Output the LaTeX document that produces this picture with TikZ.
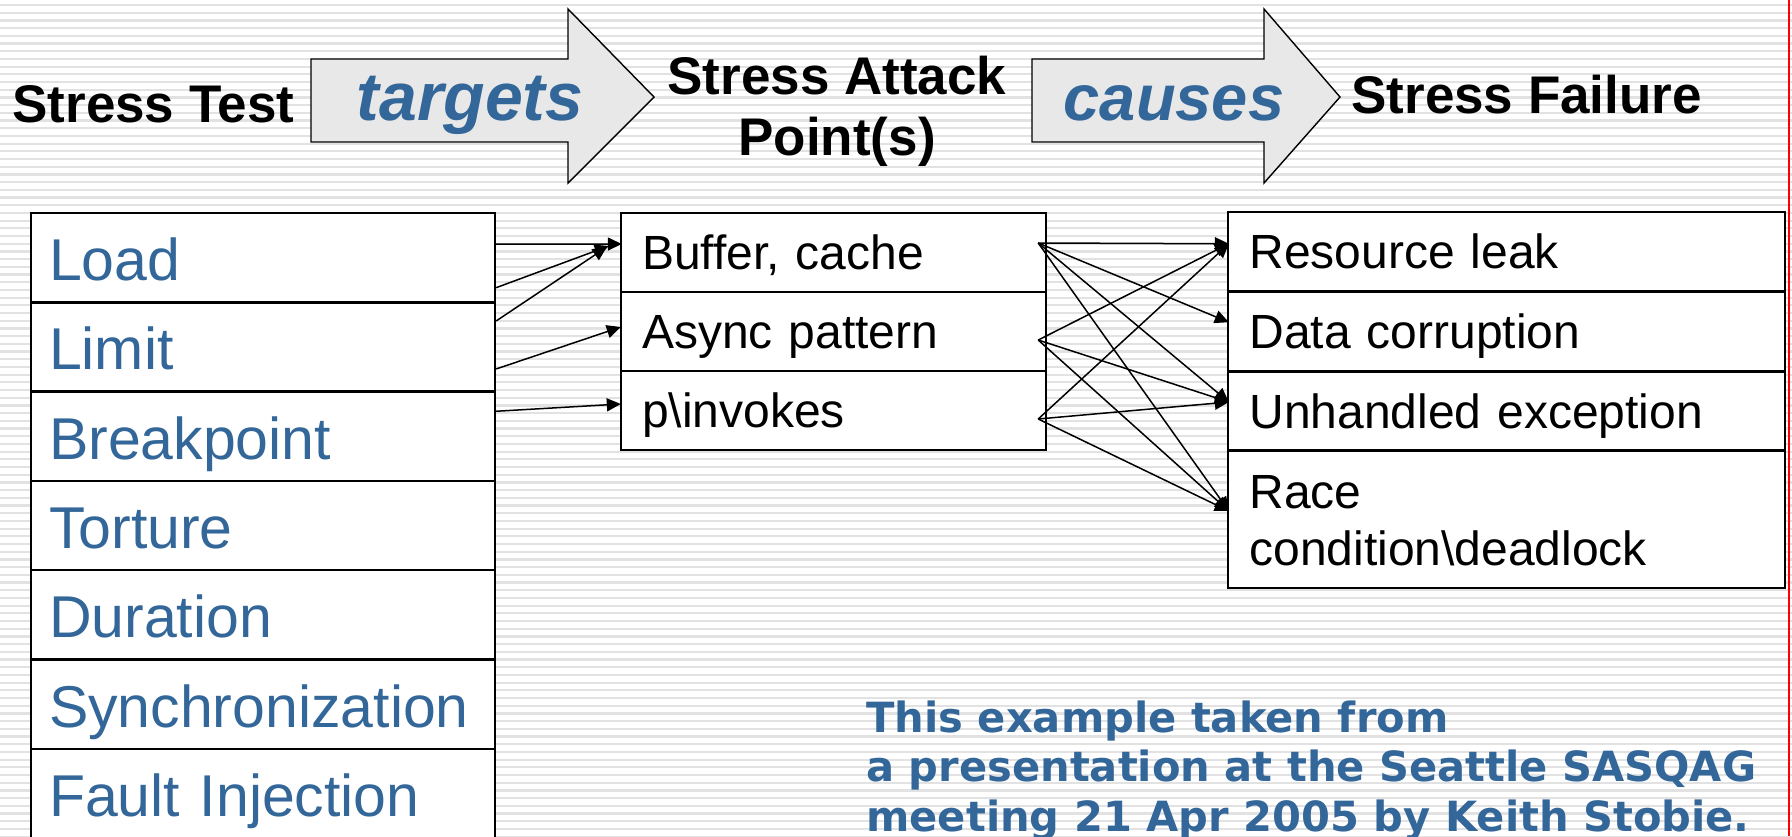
\documentclass[tikz,border=0pt]{standalone}
\usepackage{fontspec}
\setmainfont{Liberation Sans}
\newfontfamily\notefont{DejaVu Sans}
\usetikzlibrary{arrows.meta,calc}

\definecolor{slideblue}{RGB}{51,102,153}
\definecolor{arrowgray}{RGB}{232,232,232}
\definecolor{stripegray}{RGB}{226,226,226}

\tikzset{
  heading/.style={font=\bfseries\fontsize{26.5}{30.5}\selectfont, inner sep=0pt},
  verb/.style={font=\bfseries\itshape\fontsize{32.5}{36}\selectfont, text=slideblue, inner sep=0pt},
  bigarrow/.style={draw=black, line width=0.7pt, fill=arrowgray},
  testrow/.style={draw, line width=1.2pt, fill=white, text width=214pt, inner xsep=9pt, inner ysep=0pt,
    minimum height=44.65pt, text height=23pt, text depth=0pt, text=slideblue, font=\fontsize{29.5}{33}\selectfont},
  pointrow/.style={draw, line width=1.2pt, fill=white, text width=191.5pt, inner xsep=10.5pt, inner ysep=0pt,
    minimum height=39.5pt, text height=17.2pt, text depth=0pt, font=\fontsize{24}{28.5}\selectfont},
  failrow/.style={pointrow, text width=257.1pt, inner xsep=10.7pt},
  link/.style={line width=0.75pt, -{Triangle[length=7pt,width=6.5pt]}},
  note/.style={font=\notefont\bfseries\fontsize{20.8}{24.75}\selectfont, text=slideblue, inner sep=0pt},
}

\begin{document}
\begin{tikzpicture}[x=0.5pt,y=-0.5pt]
  \clip (0,0) rectangle (1792,836);

  % striped slide background
  \fill[white] (0,0) rectangle (1792,836);
  \foreach \k in {0,...,108}
    \draw[stripegray, line width=1.1pt] (0,5+7.7*\k) -- (1792,5+7.7*\k);
  \draw[red, line width=1pt] (1789,0) -- (1789,836);

  % Headings and the two big arrows
  \node[heading, anchor=base west] (test) at (12,122) {Stress Test};
  \draw[bigarrow] (311,59) -- (568,59) -- (568,9) -- (654,97) -- (568,183) -- (568,142) -- (311,142) -- cycle;
  \node[verb, anchor=base, font=\bfseries\itshape\fontsize{34}{38}\selectfont] (targets) at (470,120) {targets};
  \node[heading, anchor=base, align=center] (attack) at (837,155) {Stress Attack\\Point(s)};
  \draw[bigarrow] (1032,59) -- (1264,59) -- (1264,9) -- (1340,97) -- (1264,183) -- (1264,142) -- (1032,142) -- cycle;
  \node[verb, anchor=base] (causes) at (1174,120) {causes};
  \node[heading, anchor=base west] (failure) at (1351,113) {Stress Failure};

  % Stress tests
  \node[testrow] (load) at (263,257.65) {Load};
  \node[testrow] (limit) at (263,346.95) {Limit};
  \node[testrow] (breakpt) at (263,436.25) {Breakpoint};
  \node[testrow] (torture) at (263,525.55) {Torture};
  \node[testrow] (duration) at (263,614.85) {Duration};
  \node[testrow] (sync) at (263,704.15) {Synchronization};
  \node[testrow] (fault) at (263,793.45) {Fault Injection};

  % Attack points
  \node[pointrow] (buf) at (833.5,252.5) {Buffer, cache};
  \node[pointrow] (async) at (833.5,331.5) {Async pattern};
  \node[pointrow] (pinv) at (833.5,410.5) {p\textbackslash invokes};

  % Failures
  \node[failrow] (leak) at (1506.5,251.75) {Resource leak};
  \node[failrow] (corrupt) at (1506.5,331.25) {Data corruption};
  \node[failrow] (unhandled) at (1506.5,411) {Unhandled exception};
  \node[failrow, minimum height=68.5pt, text depth=28.5pt] (race) at (1506.5,519.5) {Race\\condition\textbackslash deadlock};

  % tests -> attack points
  \draw[link] ($(load.east)+(0,-13.6)$) -- ($(buf.west)+(2,-8.5)$);
  \draw[link] ($(load.east)+(0,30)$) -- ($(buf.west)+(-11,-6.5)$);
  \draw[link] ($(limit.east)+(0,-26)$) -- ($(buf.west)+(-13,-5.5)$);
  \draw[link] ($(limit.east)+(0,22)$) -- ($(async.west)+(1,-4.5)$);
  \draw[link] ($(breakpt.east)+(0,-25)$) -- ($(pinv.west)+(1,-6.5)$);

  % attack points -> failures
  \draw[link] ($(buf.east)+(-9,-9.5)$) -- ($(leak.west)+(2,-8)$);
  \draw[link] ($(buf.east)+(-9,-9.5)$) -- ($(corrupt.west)+(2,-9)$);
  \draw[link] ($(buf.east)+(-9,-9.5)$) -- ($(unhandled.west)+(2,-9)$);
  \draw[link] ($(buf.east)+(-9,-9.5)$) -- ($(race.west)+(2,-8.5)$);
  \draw[link] ($(async.east)+(-9,8.5)$) -- ($(leak.west)+(2,-8)$);
  \draw[link] ($(async.east)+(-9,8.5)$) -- ($(unhandled.west)+(2,-9)$);
  \draw[link] ($(async.east)+(-9,8.5)$) -- ($(race.west)+(2,-8.5)$);
  \draw[link] ($(pinv.east)+(-9,8.5)$) -- ($(leak.west)+(2,-8)$);
  \draw[link] ($(pinv.east)+(-9,8.5)$) -- ($(unhandled.west)+(2,-9)$);
  \draw[link] ($(pinv.east)+(-9,8.5)$) -- ($(race.west)+(2,-8.5)$);

  % credit line
  \node[note, anchor=base west, align=left] (credit) at (866,831) {This example taken from\\a presentation at the Seattle SASQAG\\meeting 21 Apr 2005 by Keith Stobie.};
\end{tikzpicture}
\end{document}
